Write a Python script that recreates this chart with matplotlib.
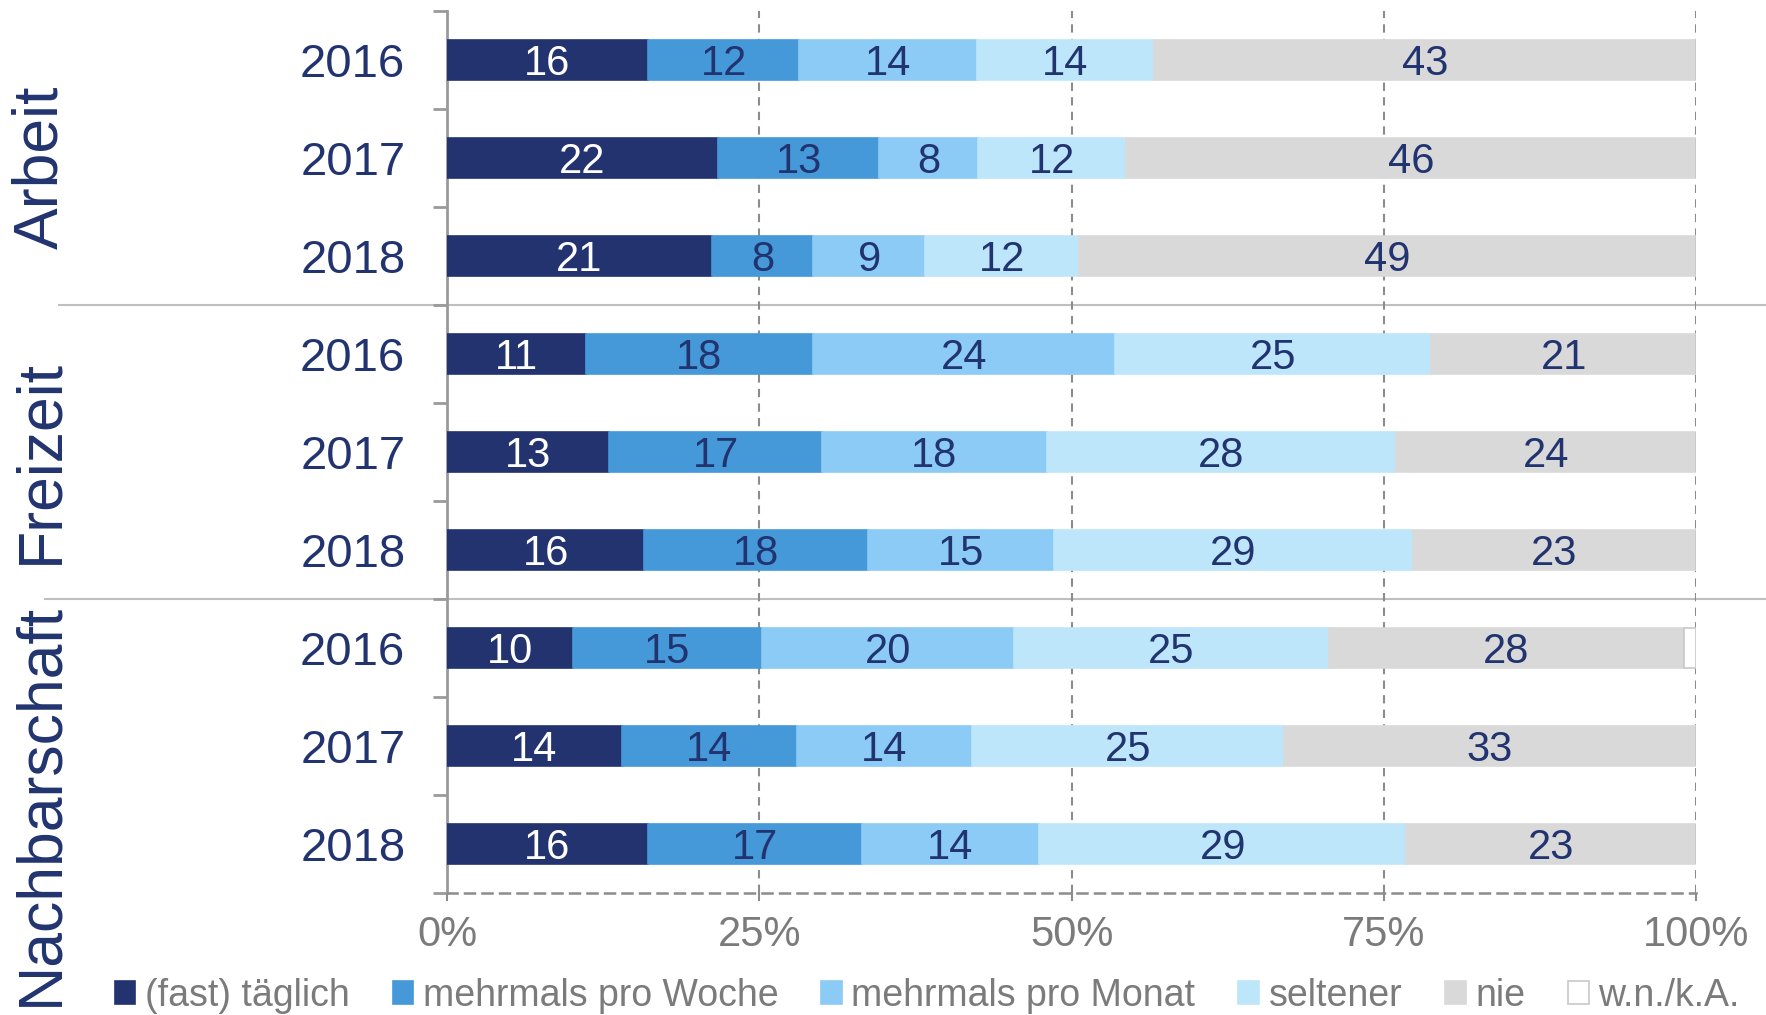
"""
Stacked horizontal bars: Nutzungshäufigkeit nach Bereich und Jahr (2016-2018).
Saves: out.png
"""
import numpy as np
import matplotlib
matplotlib.use("Agg")
import matplotlib.pyplot as plt
import matplotlib.transforms as mtransforms
from matplotlib.patches import Patch
from matplotlib import font_manager

plt.rcParams["font.family"] = ["Liberation Sans", "DejaVu Sans"]

# ── Data ─────────────────────────────────────────────────────
groups = ["Arbeit", "Freizeit", "Nachbarschaft"]
years = ["2016", "2017", "2018"] * 3

categories = ["(fast) täglich", "mehrmals pro Woche", "mehrmals pro Monat",
              "seltener", "nie", "w.n./k.A."]

fast_taeglich = [16.1, 21.7, 21.2, 11.1, 13.0, 15.8, 10.1, 14.0, 16.1]
pro_woche     = [12.1, 12.9, 8.1, 18.2, 17.0, 17.9, 15.1, 14.0, 17.1]
pro_monat     = [14.2, 7.9, 9.0, 24.2, 18.0, 14.9, 20.2, 14.0, 14.2]
seltener      = [14.2, 11.9, 12.3, 25.3, 28.0, 28.7, 25.2, 25.0, 29.4]
nie           = [43.4, 45.6, 49.4, 21.2, 24.0, 22.7, 28.4, 33.0, 23.2]
wn_ka         = [0.0, 0.0, 0.0, 0.0, 0.0, 0.0, 1.0, 0.0, 0.0]

series = [fast_taeglich, pro_woche, pro_monat, seltener, nie, wn_ka]

# ── Style ────────────────────────────────────────────────────
NAVY = "#22346f"
GREY_TXT = "#7b7b7b"
colors = ["#233370", "#4599d9", "#8bcbf5", "#bde6fb", "#d9d9d9", "#ffffff"]
label_colors = ["white", NAVY, NAVY, NAVY, NAVY, NAVY]

# narrow face for the legend if available
names = {f.name for f in font_manager.fontManager.ttflist}
if "Liberation Sans Narrow" in names:
    leg_family, leg_size = ["Liberation Sans Narrow", "DejaVu Sans"], 33
else:
    leg_family, leg_size = ["Liberation Sans", "DejaVu Sans"], 27

fig = plt.figure(figsize=(17.66, 10.15), dpi=100)
ax = fig.add_axes([0.2531, 0.1202, 0.9604 - 0.2531, 0.9892 - 0.1202])

y = np.arange(len(years))
left = np.zeros(len(years))
for vals, col, tcol in zip(series, colors, label_colors):
    vals = np.array(vals)
    edge = "#c8c8c8" if col == "#ffffff" else col
    bars = ax.barh(y, vals, left=left, height=0.4, color=col,
                   edgecolor=edge, linewidth=1.2, zorder=3)
    for b, v in zip(bars, vals):
        if v >= 3:
            ax.text(b.get_x() + b.get_width() / 2, b.get_y() + b.get_height() / 2,
                    f"{v:.0f}", ha="center", va="center_baseline", color=tcol,
                    fontsize=30, zorder=4)
    left += vals

ax.set_xlim(0, 100)
ax.set_ylim(len(years) - 0.5, -0.5)

# grid & spines
ax.set_xticks([0, 25, 50, 75, 100])
ax.set_xticklabels(["0%", "25%", "50%", "75%", "100%"])
ax.xaxis.grid(True, color="#8c8c8c", linestyle=(0, (4, 3)), linewidth=1.5, zorder=0)
for s in ["top", "right"]:
    ax.spines[s].set_visible(False)
ax.spines["left"].set_color("#9a9a9a")
ax.spines["left"].set_linewidth(2)
ax.spines["bottom"].set_color("#8c8c8c")
ax.spines["bottom"].set_linestyle((0, (4, 3)))
ax.spines["bottom"].set_linewidth(1.8)

ax.tick_params(axis="x", colors="#8c8c8c", labelcolor=GREY_TXT, labelsize=30,
               length=6, width=1.5, pad=10)
ax.set_yticks(y)
ax.set_yticklabels(years)
ax.tick_params(axis="y", which="major", length=0, labelsize=34,
               labelcolor=NAVY, pad=30)
ax.set_yticks(np.arange(-0.5, len(years) + 0.5, 1.0), minor=True)
ax.tick_params(axis="y", which="minor", length=10, width=2, color="#9a9a9a")

# group separators and labels
trans = mtransforms.blended_transform_factory(ax.transAxes, ax.transData)
for yy, x0 in [(2.5, -0.311), (5.5, -0.322)]:
    ax.plot([x0, 1.056], [yy, yy], color="#bfbfbf", linewidth=1.5,
            transform=trans, clip_on=False, zorder=1)

for name, yc in zip(groups, [1.1, 4.1, 7.6]):
    ax.text(-0.325, yc, name, rotation=90, ha="center", va="center",
            fontsize=45, color=NAVY, transform=trans, clip_on=False)

# legend
handles = [Patch(facecolor=c, edgecolor=("#c8c8c8" if c == "#ffffff" else c),
                 linewidth=1.2) for c in colors]
leg = fig.legend(handles, categories, loc="center", bbox_to_anchor=(0.525, 0.019),
                 ncol=6, frameon=False, handlelength=0.55,
                 handleheight=0.55, handletextpad=0.25, columnspacing=1.15,
                 borderaxespad=0, prop={"family": leg_family, "size": leg_size})
for t in leg.get_texts():
    t.set_color(GREY_TXT)

fig.savefig("out.png", dpi=100)
plt.close(fig)
